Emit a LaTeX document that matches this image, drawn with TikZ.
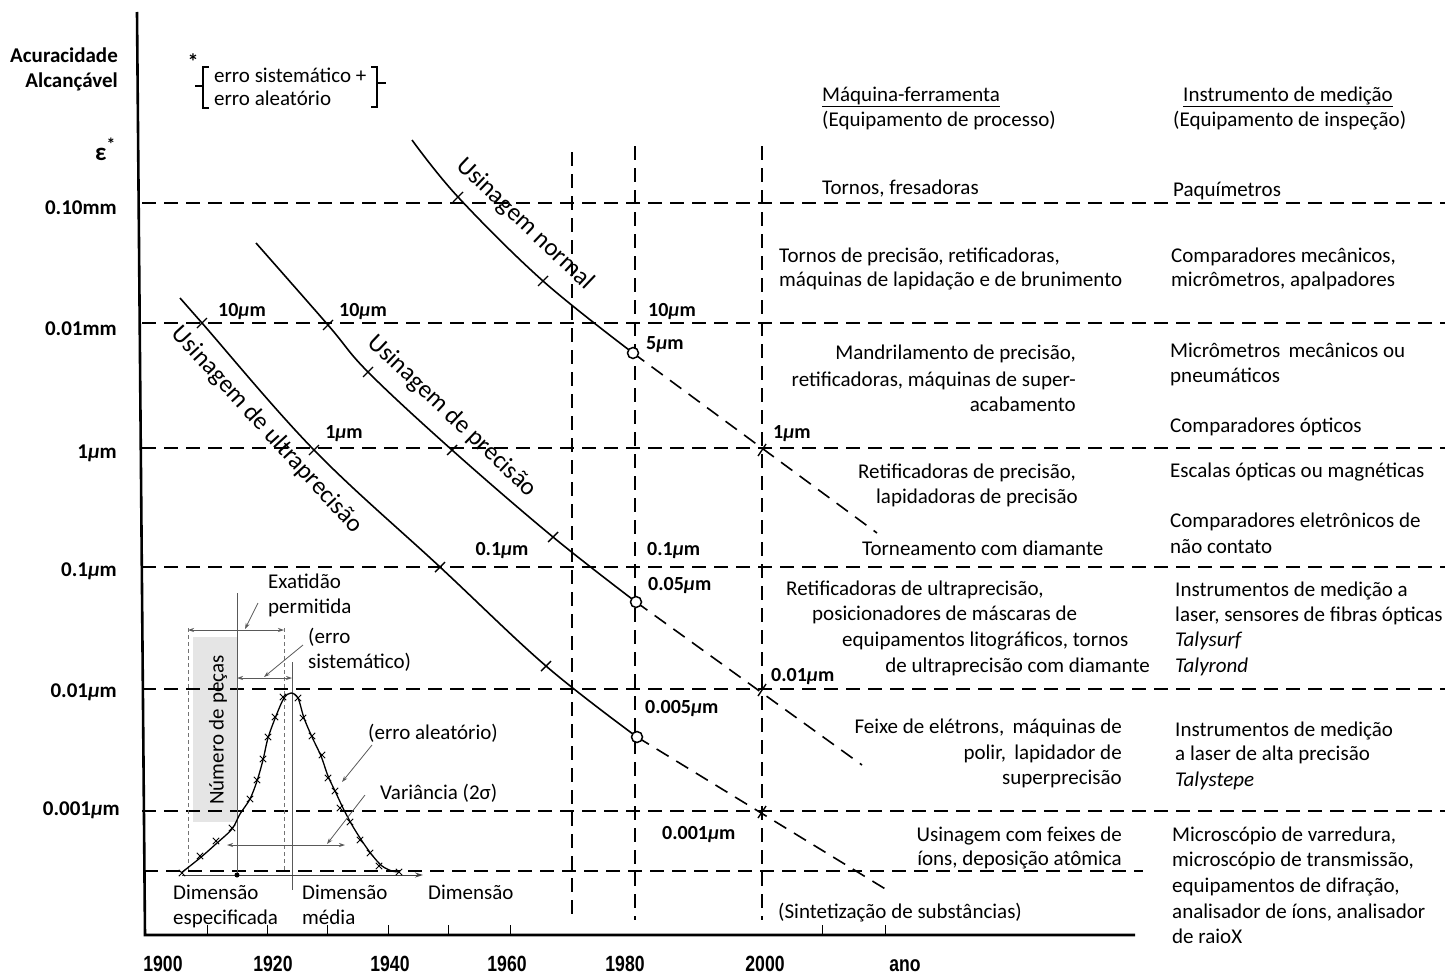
\documentclass[tikz,border=0pt]{standalone}
\usepackage{fontspec}
\usepackage{graphicx}
\setmainfont{Carlito}
\newfontfamily\yrfont{Liberation Sans}
\usetikzlibrary{arrows.meta}
\newcommand{\mum}{{\itshape μ}m}
\begin{document}
\begin{tikzpicture}[x=1pt,y=-1pt,
  lab/.style={font=\fontsize{21}{25}\selectfont, inner sep=0pt},
  val/.style={font=\bfseries\fontsize{20}{24}\selectfont, inner sep=0pt},
  axl/.style={font=\bfseries\fontsize{21}{25}\selectfont, inner sep=0pt, anchor=base east},
  yr/.style={font=\yrfont\bfseries\fontsize{22}{26}\selectfont, inner sep=0pt, anchor=base},
  clab/.style={font=\fontsize{25}{30}\selectfont, inner sep=0pt},
  gridl/.style={line width=1.3pt, dash pattern=on 14pt off 8pt},
  crv/.style={line width=1.6pt},
  crvd/.style={line width=1.6pt, dash pattern=on 14pt off 9pt},
  thinl/.style={black!65, line width=0.8pt},
  thind/.style={black!55, line width=0.8pt, dash pattern=on 4pt off 3pt},
  leader/.style={black!65, line width=0.8pt, -{Stealth[length=6pt,width=4pt]}},
  dbl/.style={black!65, line width=0.8pt, {Stealth[length=6pt,width=4pt]}-{Stealth[length=6pt,width=4pt]}},
  opn/.style={circle, draw, line width=1.5pt, fill=white, minimum size=11pt, inner sep=0pt}
]
\useasboundingbox (0,0) rectangle (1451,974);

% gray box of inset
\fill[black!10] (193,637) rectangle (237,822);

% horizontal dashed grid
\foreach \yy in {203,323,448,567,689,811} {
  \draw[gridl] (142,\yy) -- (1445,\yy);
}
\draw[gridl] (144,871) -- (1143,871);
% vertical dashed grid
\draw[gridl] (572,152) -- (572,920);
\draw[gridl] (635,146) -- (635,920);
\draw[gridl] (762,146) -- (762,920);

% axes
\coordinate (axtop) at (137,12);
\coordinate (axorig) at (145,935);
\coordinate (axend) at (1135,935);
\draw[line width=2.6pt] (axtop) -- (axorig) -- (axend);
\foreach \xx in {207,267,327,388,448,510,822,885} {
  \draw[line width=1pt] (\xx,935) -- (\xx,925);
}

% axis labels
\node[axl] (ac1) at (118,63) {Acuracidade};
\node[axl] (ac2) at (118,88) {Alcançável};
\node[axl, font=\bfseries\fontsize{25}{28}\selectfont] (eps) at (116,160) {ε\textsuperscript{*}};
\node[axl] (t1) at (117,214) {0.10mm};
\node[axl] (t2) at (117,335) {0.01mm};
\node[axl] (t3) at (117,458) {1\mum};
\node[axl] (t4) at (117,576) {0.1\mum};
\node[axl] (t5) at (117,697) {0.01\mum};
\node[axl] (t6) at (120,815) {0.001\mum};

\node[yr] (y1) at (163,971) {\scalebox{0.8}[1]{1900}};
\node[yr] (y2) at (273,971) {\scalebox{0.8}[1]{1920}};
\node[yr] (y3) at (390,971) {\scalebox{0.8}[1]{1940}};
\node[yr] (y4) at (507,971) {\scalebox{0.8}[1]{1960}};
\node[yr] (y5) at (625,971) {\scalebox{0.8}[1]{1980}};
\node[yr] (y6) at (765,971) {\scalebox{0.8}[1]{2000}};
\node[yr] (y7) at (905,971) {\scalebox{0.8}[1]{ano}};

% legend bracket
\node[font=\bfseries\fontsize{22}{24}\selectfont, inner sep=0pt] (ast) at (193,62) {*};
\draw[line width=1.2pt] (209,67) -- (203,67) -- (203,108) -- (209,108);
\draw[line width=1.2pt] (195,86) -- (203,86);
\draw[line width=1.2pt] (371,67) -- (377,67) -- (377,107) -- (371,107);
\draw[line width=1.2pt] (377,83) -- (386,83);
\node[lab, anchor=base west] (lg1) at (214,82) {erro sistemático +};
\node[lab, anchor=base west] (lg2) at (214,106) {erro aleatório};

% curves
\draw[crv] plot[smooth, tension=0.6] coordinates {(412,140) (458,197) (543,281) (633,353)};
\draw[crv] plot[smooth, tension=0.6] coordinates {(256,243) (328,325) (368,372) (452,450) (553,537) (636,602)};
\draw[crv] plot[smooth, tension=0.6] coordinates {(180,298) (202,323) (314,450) (440,567) (546,666) (637,737)};
\coordinate (cN) at (633,353);
\coordinate (cP) at (636,602);
\coordinate (cU) at (637,737);
\coordinate (eN) at (877,533);
\coordinate (eP) at (862,765);
\coordinate (eU) at (887,890);
\draw[crvd] (cN) -- (eN);
\draw[crvd] (cP) -- (eP);
\draw[crvd] (cU) -- (eU);
% curve ticks
\foreach \px/\py in {458/197,543/281,328/325,368/372,452/450,553/537,202/323,314/450,440/567,546/666} {
  \draw[line width=1.4pt] (\px,\py) ++(-5,5) -- ++(10,-10);
}
\foreach \px/\py in {762/450,762/690,762/812} {
  \draw[line width=1.4pt] (\px,\py) ++(-4,6) -- ++(8,-12);
}
\node[opn] (oN) at (cN) {};
\node[opn] (oP) at (cP) {};
\node[opn] (oU) at (cU) {};

% curve labels
\node[clab, rotate=-43.5] (lN) at (525,224) {Usinagem normal};
\node[clab, rotate=-43.5] (lP) at (452,416) {Usinagem de precisão};
\node[clab, rotate=-47.5] (lU) at (267,430) {Usinagem de ultraprecisão};

% value labels
\node[val, anchor=base] (v1) at (242,316) {10\mum};
\node[val, anchor=base] (v2) at (363,316) {10\mum};
\node[val, anchor=base] (v3) at (344,438) {1\mum};
\node[val, anchor=base] (v4) at (502,555) {0.1\mum};
\node[val, anchor=base west] (v5) at (648,316) {10\mum};
\node[val, anchor=base west] (v6) at (646,349) {5\mum};
\node[val, anchor=base west] (v7) at (773,438) {1\mum};
\node[val, anchor=base west] (v8) at (647,555) {0.1\mum};
\node[val, anchor=base west] (v9) at (648,590) {0.05\mum};
\node[val, anchor=base west] (v10) at (771,681) {0.01\mum};
\node[val, anchor=base west] (v11) at (645,713) {0.005\mum};
\node[val, anchor=base west] (v12) at (662,839) {0.001\mum};

% column 1
\node[lab, anchor=base west] (h1) at (822,101) {\underline{Máquina-ferramenta}};
\node[lab, anchor=base west] (h1b) at (822,126) {(Equipamento de processo)};
\node[lab, anchor=base west] (a1) at (822,194) {Tornos, fresadoras};
\node[lab, anchor=base west] (a2) at (779,262) {Tornos de precisão, retificadoras,};
\node[lab, anchor=base west] (a3) at (779,286) {máquinas de lapidação e de brunimento};
\node[lab, anchor=base east] (a4) at (1076,359) {Mandrilamento de precisão,};
\node[lab, anchor=base east] (a5) at (1076,386) {retificadoras, máquinas de super-};
\node[lab, anchor=base east] (a6) at (1076,411) {acabamento};
\node[lab, anchor=base east] (a7) at (1076,478) {Retificadoras de precisão,};
\node[lab, anchor=base east] (a8) at (1078,503) {lapidadoras de precisão};
\node[lab, anchor=base west] (a9) at (862,555) {Torneamento com diamante};
\node[lab, anchor=base west] (a10) at (786,595) {Retificadoras de ultraprecisão,};
\node[lab, anchor=base west] (a11) at (812,620) {posicionadores de máscaras de};
\node[lab, anchor=base west] (a12) at (842,646) {equipamentos litográficos, tornos};
\node[lab, anchor=base east] (a13) at (1150,672) {de ultraprecisão com diamante};
\node[lab, anchor=base east] (a14) at (1122,733) {Feixe de elétrons,\, máquinas de};
\node[lab, anchor=base east] (a15) at (1122,759) {polir,\, lapidador de};
\node[lab, anchor=base east] (a16) at (1122,784) {superprecisão};
\node[lab, anchor=base east] (a17) at (1122,841) {Usinagem com feixes de};
\node[lab, anchor=base east] (a18) at (1122,865) {íons, deposição atômica};
\node[lab, anchor=base west] (a19) at (778,918) {(Sintetização de substâncias)};

% column 2
\node[lab, anchor=base west] (h2) at (1183,101) {\underline{Instrumento de medição}};
\node[lab, anchor=base west] (h2b) at (1173,126) {(Equipamento de inspeção)};
\node[lab, anchor=base west] (b1) at (1173,196) {Paquímetros};
\node[lab, anchor=base west] (b2) at (1171,262) {Comparadores mecânicos,};
\node[lab, anchor=base west] (b3) at (1171,286) {micrômetros, apalpadores};
\node[lab, anchor=base west] (b4) at (1170,357) {Micrômetros\, mecânicos ou};
\node[lab, anchor=base west] (b5) at (1170,382) {pneumáticos};
\node[lab, anchor=base west] (b6) at (1170,432) {Comparadores ópticos};
\node[lab, anchor=base west] (b7) at (1170,477) {Escalas ópticas ou magnéticas};
\node[lab, anchor=base west] (b8) at (1170,527) {Comparadores eletrônicos de};
\node[lab, anchor=base west] (b9) at (1170,553) {não contato};
\node[lab, anchor=base west] (b10) at (1175,596) {Instrumentos de medição a};
\node[lab, anchor=base west] (b11) at (1175,621) {laser, sensores de fibras ópticas};
\node[lab, anchor=base west] (b12) at (1175,646) {\itshape Talysurf};
\node[lab, anchor=base west] (b13) at (1175,672) {\itshape Talyrond};
\node[lab, anchor=base west] (b14) at (1175,736) {Instrumentos de medição};
\node[lab, anchor=base west] (b15) at (1175,760) {a laser de alta precisão};
\node[lab, anchor=base west] (b16) at (1175,786) {\itshape Talystepe};
\node[lab, anchor=base west] (b17) at (1172,841) {Microscópio de varredura,};
\node[lab, anchor=base west] (b18) at (1172,866) {microscópio de transmissão,};
\node[lab, anchor=base west] (b19) at (1172,892) {equipamentos de difração,};
\node[lab, anchor=base west] (b20) at (1172,918) {analisador de íons, analisador};
\node[lab, anchor=base west] (b21) at (1172,943) {de raioX};

% ---- inset ----
\node[lab, rotate=90] (np) at (218,730) {Número de peças};
\draw[thind] (188,628) -- (188,872);
\draw[thind] (284,628) -- (284,872);
\draw[thinl] (237,593) -- (237,877);
\draw[thinl] (292,662) -- (292,890);
\coordinate (ea1) at (188,630); \coordinate (ea2) at (284,630);
\coordinate (es1) at (237,678); \coordinate (es2) at (292,678);
\coordinate (va1) at (227,845); \coordinate (va2) at (345,845);
\draw[dbl] (ea1) -- (ea2);
\draw[dbl] (es1) -- (es2);
\draw[dbl] (va1) -- (va2);
\coordinate (bs) at (182,875); \coordinate (be) at (423,875);
\draw[black!75, line width=1pt, -{Stealth[length=8pt,width=5pt]}] (bs) -- (be);
\fill (237,875) circle (2.5pt);
% bell curve
\draw[line width=1.3pt] plot[smooth, tension=0.5] coordinates {(181,873) (200,858) (217,843) (232,829) (240,814) (250,799) (257,781) (263,760) (268,738) (276,716) (284,698) (291,693) (298,698) (304,718) (312,737) (321,756) (328,776) (336,793) (343,808) (352,825) (362,841) (372,855) (382,866) (392,871) (400,872)};
\draw[line width=1pt] plot[only marks, mark=x, mark size=4.5pt] coordinates {(182,873) (200,856) (216,841) (232,828) (250,799) (257,780) (263,759) (268,737) (275,717) (283,697) (298,698) (303,718) (312,736) (322,755) (328,778) (335,791) (340,808) (350,822) (360,840) (370,853) (379,866) (399,872)};
% inset labels
\node[lab, anchor=base west] (ex1) at (268,588) {Exatidão};
\node[lab, anchor=base west] (ex2) at (268,613) {permitida};
\node[lab, anchor=base west] (es1t) at (308,643) {(erro};
\node[lab, anchor=base west] (es2t) at (308,668) {sistemático)};
\node[lab, anchor=base west] (eat) at (368,739) {(erro aleatório)};
\node[lab, anchor=base west] (vat) at (380,799) {Variância (2σ)};
\node[lab, anchor=base west] (d1) at (173,899) {Dimensão};
\node[lab, anchor=base west] (d1b) at (173,924) {especificada};
\node[lab, anchor=base west] (d2) at (302,899) {Dimensão};
\node[lab, anchor=base west] (d2b) at (302,924) {média};
\node[lab, anchor=base west] (d3) at (428,899) {Dimensão};
% leaders
\coordinate (L1a) at (258,603); \coordinate (L1b) at (245,629);
\coordinate (L2a) at (303,645); \coordinate (L2b) at (264,677);
\coordinate (L3a) at (372,745); \coordinate (L3b) at (342,782);
\coordinate (L4a) at (365,795); \coordinate (L4b) at (327,844);
\draw[leader] (L1a) -- (L1b);
\draw[leader] (L2a) -- (L2b);
\draw[leader] (L3a) -- (L3b);
\draw[leader] (L4a) -- (L4b);
\end{tikzpicture}
\end{document}
